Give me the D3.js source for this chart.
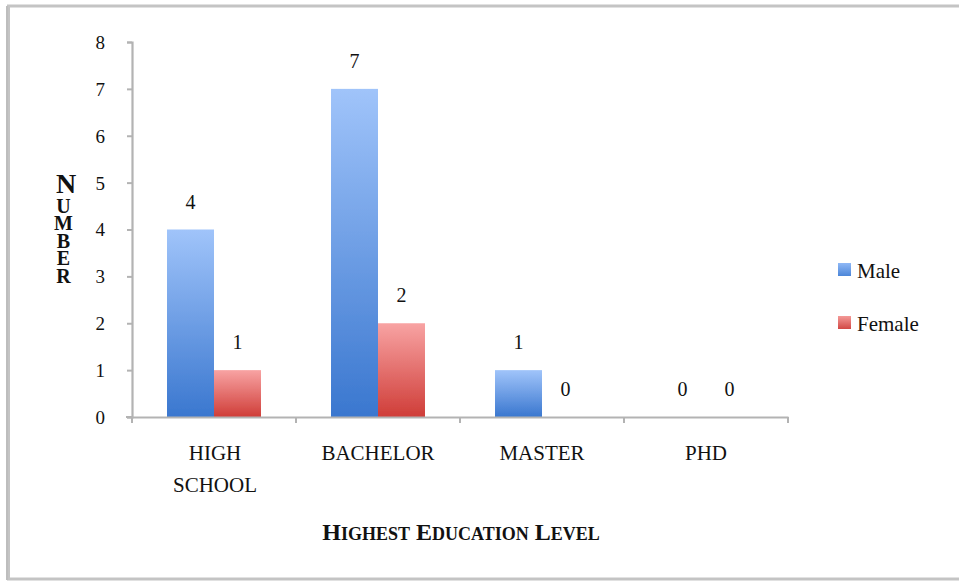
<!DOCTYPE html>
<html>
<head>
<meta charset="utf-8">
<script src="https://cdn.jsdelivr.net/npm/d3@7"></script>
<style>
  html, body { margin: 0; padding: 0; background: #fff; }
  svg { display: block; }
</style>
</head>
<body>
<svg id="chart" width="959" height="581"></svg>
<script>
// Education level by gender
const categories = ["HIGH SCHOOL", "BACHELOR", "MASTER", "PHD"];
const categoryLines = [["HIGH", "SCHOOL"], ["BACHELOR"], ["MASTER"], ["PHD"]];
const seriesNames = ["Male", "Female"];
const maleValues = [4, 7, 1, 0];
const femaleValues = [1, 2, 0, 0];
const yTicks = [0, 1, 2, 3, 4, 5, 6, 7, 8];

const SERIF = "'Liberation Serif', 'Times New Roman', Times, serif";
const series = [maleValues, femaleValues];
const svg = d3.select("#chart").attr("font-family", SERIF);

// frame around the chart area
svg.append("rect").attr("x", 8.5).attr("y", 6).attr("width", 970).attr("height", 573)
  .attr("fill", "none").attr("stroke", "#c4c4c4").attr("stroke-width", 3);
svg.append("line").attr("x1", 7).attr("x2", 7).attr("y1", 6).attr("y2", 580)
  .attr("stroke", "#bdbdbd").attr("stroke-width", 2);

const plot = { left: 132, right: 788, top: 42, bottom: 417 };

const x = d3.scaleBand().domain(categories).range([plot.left, plot.right]).paddingInner(0).paddingOuter(0);
const xs = d3.scaleBand().domain(seriesNames).range([0, x.bandwidth()]).paddingInner(0).paddingOuter(0.745);
const y = d3.scaleLinear().domain([0, 8]).range([plot.bottom, plot.top]);

const defs = svg.append("defs");
const grads = [
  { id: "gMale", top: "#a0c4fa", bottom: "#3a77cf" },
  { id: "gFemale", top: "#f8a3a3", bottom: "#cf3d38" },
  { id: "lMale", top: "#8fb8f6", bottom: "#4c86d8" },
  { id: "lFemale", top: "#f49a98", bottom: "#d24844" }
];
grads.forEach(g => {
  const lg = defs.append("linearGradient").attr("id", g.id).attr("x1", 0).attr("y1", 0).attr("x2", 0).attr("y2", 1);
  lg.append("stop").attr("offset", "0%").attr("stop-color", g.top);
  lg.append("stop").attr("offset", "100%").attr("stop-color", g.bottom);
});
const blur = defs.append("filter").attr("id", "soft");
blur.append("feGaussianBlur").attr("stdDeviation", 0.5);

// bars and value labels
const groups = svg.append("g").selectAll("g").data(categories).join("g")
  .attr("transform", d => `translate(${x(d)},0)`);
groups.each(function(cat, ci) {
  const g = d3.select(this);
  seriesNames.forEach((s, si) => {
    const v = series[si][ci];
    if (v > 0) {
      g.append("rect")
        .attr("x", xs(s)).attr("width", xs.bandwidth())
        .attr("y", y(v)).attr("height", y(0) - y(v))
        .attr("fill", `url(#${grads[si].id})`)
        .attr("filter", "url(#soft)");
    }
    g.append("text")
      .attr("x", xs(s) + xs.bandwidth() / 2)
      .attr("y", y(v) - 21)
      .attr("text-anchor", "middle")
      .attr("font-family", SERIF)
      .attr("font-size", 20)
      .attr("fill", "#111")
      .text(v);
  });
});

// y axis
const yAxis = d3.axisLeft(y).tickValues(yTicks).tickSize(5).tickPadding(22).tickFormat(d3.format("d"));
const gy = svg.append("g").attr("transform", `translate(${plot.left},0)`).call(yAxis);
gy.attr("font-family", SERIF);
gy.select(".domain").attr("stroke", "#b3b3b3").attr("stroke-width", 2.2);
gy.selectAll(".tick line").attr("stroke", "#b3b3b3").attr("stroke-width", 2);
gy.selectAll(".tick text").attr("font-size", 19).attr("font-family", SERIF).attr("fill", "#111").attr("dy", "0.34em");

// x axis
const xAxis = d3.axisBottom(x).tickSize(0).tickFormat("");
const gx = svg.append("g").attr("transform", `translate(0,${plot.bottom})`).call(xAxis);
gx.select(".domain").attr("stroke", "#b3b3b3").attr("stroke-width", 2.2);
const xBoundaries = categories.map(c => x(c)).concat([plot.right]);
gx.selectAll(".xtick").data(xBoundaries).join("line")
  .attr("x1", d => d).attr("x2", d => d).attr("y1", 0).attr("y2", 6)
  .attr("stroke", "#b3b3b3").attr("stroke-width", 2);
gx.append("line").attr("x1", plot.left - 6).attr("x2", plot.left).attr("y1", 0).attr("y2", 0)
  .attr("stroke", "#b3b3b3").attr("stroke-width", 2);

// category labels
categories.forEach((c, i) => {
  const cx = x(c) + x.bandwidth() / 2 + (i === 0 ? 1 : 0);
  const t = svg.append("text")
    .attr("x", cx).attr("y", 460)
    .attr("text-anchor", "middle")
    .attr("font-family", SERIF)
    .attr("fill", "#111")
    .attr("font-size", 21);
  categoryLines[i].forEach((ln, li) => {
    t.append("tspan").attr("x", cx).attr("dy", li === 0 ? 0 : 32).text(ln);
  });
});

// x axis title in small caps
const xt = svg.append("text")
  .attr("x", 461).attr("y", 540).attr("text-anchor", "middle")
  .attr("font-family", SERIF).attr("fill", "#111")
  .attr("font-weight", "bold").attr("font-size", 24);
["Highest", "Education", "Level"].forEach((w, i) => {
  xt.append("tspan").attr("font-size", 24).text((i > 0 ? " " : "") + w[0].toUpperCase());
  xt.append("tspan").attr("font-size", 18).text(w.slice(1).toUpperCase());
});

// y axis title: upright letters stacked top to bottom
svg.append("text")
  .attr("x", 66).attr("y", 168)
  .attr("font-family", SERIF).attr("fill", "#111")
  .attr("font-weight", "bold")
  .attr("font-size", 28)
  .style("writing-mode", "vertical-rl")
  .style("text-orientation", "upright")
  .style("font-variant", "small-caps")
  .style("letter-spacing", "-4.5px")
  .text("Number");

// legend
const legend = svg.append("g");
seriesNames.forEach((s, i) => {
  const ly = 263 + i * 53;
  legend.append("rect").attr("x", 838).attr("y", ly).attr("width", 13).attr("height", 13)
    .attr("fill", `url(#${grads[i + 2].id})`);
  legend.append("text").attr("x", 857).attr("y", ly + 15)
    .attr("font-family", SERIF).attr("fill", "#111")
    .attr("font-size", 21).text(s);
});
</script>
</body>
</html>
